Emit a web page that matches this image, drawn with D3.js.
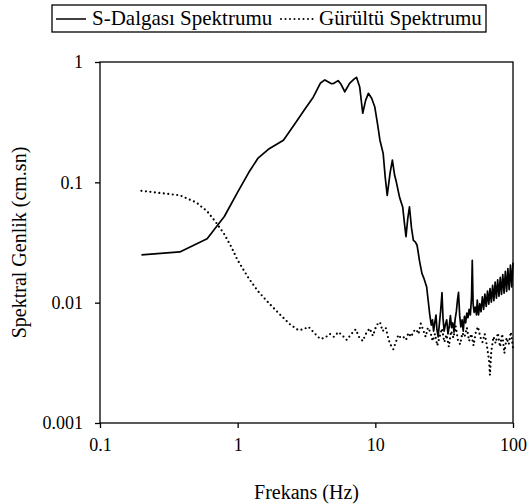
<!DOCTYPE html>
<html>
<head>
<meta charset="utf-8">
<script src="https://cdn.jsdelivr.net/npm/d3@7"></script>
<style>
body { margin: 0; background: #fff; }
text { font-family: "Liberation Serif", "Times New Roman", serif; fill: #000; }
</style>
</head>
<body>
<svg id="board" width="532" height="504"></svg>
<script>
// S-dalgasi spektrumu (frekans Hz, genlik cm.sn)
sFreq = [0.2, 0.38, 0.6, 0.8, 1.0, 1.2, 1.4, 1.67, 2.15, 2.62, 3.1, 3.54, 4.0, 4.3, 4.8, 5.0, 5.37, 5.6, 6.0, 6.5, 7.0, 7.3, 7.7, 8.1, 8.5, 8.9, 9.4, 9.9, 10.4, 10.8, 11.4, 11.8, 12.2, 12.8, 13.3, 13.8, 14.2, 15.0, 15.8, 16.3, 16.7, 17.2, 17.7, 18.3, 18.9, 19.5, 20.1, 20.5, 20.9, 21.8, 22.5, 23.6, 24.3, 24.8,
         25.5, 26, 26.5, 27, 27.6, 28, 28.6, 29.2, 29.8, 30.5, 31, 31.6, 32.3, 33, 33.7, 34.4, 35.1, 35.8, 36.5, 37.3, 38, 38.8, 39.5, 40.2, 41, 41.8, 42.7, 43.5, 44.4, 45.3, 46.2, 47.1, 48, 49, 50, 50.6, 51.3, 52.2, 53.3, 54.3,
         55, 56.2, 57.4, 58.6, 59.9, 61.2, 62.5, 63.9, 65.3, 66.7, 68.1, 69.6, 71.1, 72.6, 74.2, 75.8, 77.4, 79.1, 80.8, 82.5, 84.3, 86.1, 88, 89.9, 91.8, 93.8, 95.8, 97.9, 100];
sVals = [0.025, 0.0264, 0.034, 0.052, 0.083, 0.12, 0.158, 0.188, 0.224, 0.31, 0.41, 0.51, 0.67, 0.71, 0.66, 0.665, 0.70, 0.66, 0.566, 0.665, 0.72, 0.746, 0.62, 0.375, 0.48, 0.549, 0.5, 0.425, 0.3, 0.224, 0.174, 0.11, 0.078, 0.12, 0.153, 0.115, 0.101, 0.075, 0.0625, 0.045, 0.0354, 0.05, 0.0625, 0.042, 0.033, 0.032, 0.030, 0.026, 0.0225, 0.0175, 0.016, 0.0135, 0.01, 0.0081,
         0.0065, 0.0072, 0.0058, 0.0068, 0.0079, 0.006, 0.0052, 0.0067, 0.0085, 0.0121, 0.0075, 0.0058, 0.0066, 0.0072, 0.0055, 0.0063, 0.0078, 0.0062, 0.0068, 0.0057, 0.0073, 0.0085, 0.0105, 0.0122, 0.0078, 0.0063, 0.0072, 0.0058, 0.0077, 0.0068, 0.0082, 0.0075, 0.0088, 0.0079, 0.0112, 0.0225, 0.0098, 0.0083, 0.0092, 0.0079,
         0.0105, 0.0079, 0.0098, 0.0084, 0.0112, 0.0088, 0.0118, 0.0093, 0.0125, 0.0097, 0.0131, 0.0101, 0.0139, 0.0104, 0.0148, 0.0109, 0.0155, 0.0113, 0.0162, 0.0117, 0.0171, 0.012, 0.0182, 0.0124, 0.0192, 0.0128, 0.0205, 0.0135, 0.0215];

// Gurultu spektrumu
nFreq = [0.2, 0.38, 0.5, 0.6, 0.7, 0.8, 0.9, 1.0, 1.2, 1.4, 1.7, 2.0, 2.4, 2.76, 3.0, 3.27, 3.6, 3.97, 4.3, 4.67, 5.0, 5.4, 5.8, 6.2, 6.7, 7.2, 7.6, 8.1, 8.6, 9.1, 9.6, 10.2, 10.8, 11.3, 11.9, 12.5, 13.1, 13.5, 14.1, 14.7, 15.3, 16, 16.7, 17.4, 18.2, 19, 19.8, 20.6, 21.4, 22.3, 23.2, 24.1, 25.1, 26.1, 27.1, 28.2, 29.3, 30.5, 31.7, 32.9, 34.2, 35.5, 36.9, 38.3, 39.8, 41.3, 42.9, 44.5, 46.2, 48, 49.8, 51.7, 53.7, 55.7, 57.8, 60, 62.3, 64.6, 67, 68, 69.5, 72.1, 74.8, 77.6, 80.5, 83.5, 86.6, 89.8, 93.1, 96.5, 100];
nVals = [0.085, 0.078, 0.068, 0.0575, 0.046, 0.037, 0.029, 0.0225, 0.016, 0.0125, 0.0098, 0.0081, 0.0066, 0.0059, 0.006, 0.0063, 0.0056, 0.005, 0.0051, 0.0055, 0.0052, 0.0057, 0.0053, 0.0049, 0.0055, 0.006, 0.0052, 0.0048, 0.0056, 0.0061, 0.0053, 0.0065, 0.0069, 0.0058, 0.0062, 0.0049, 0.0043, 0.0041, 0.0047, 0.0054, 0.0051, 0.0052, 0.0049, 0.0056, 0.0052, 0.0058, 0.006, 0.0055, 0.0067, 0.0059, 0.0052, 0.0062, 0.0057, 0.0048, 0.0055, 0.0044, 0.0052, 0.0061, 0.0047, 0.0054, 0.0043, 0.0058, 0.0051, 0.0064, 0.0049, 0.0045, 0.0056, 0.0052, 0.0062, 0.0048, 0.0055, 0.0044, 0.0057, 0.0063, 0.0052, 0.0047, 0.0055, 0.0044, 0.0033, 0.0025, 0.0039, 0.0052, 0.0046, 0.0056, 0.0043, 0.0055, 0.0038, 0.0051, 0.0045, 0.0057, 0.0042];

xTicks = [0.1, 1, 10, 100];
yTicks = [0.001, 0.01, 0.1, 1];
seriesNames = ['S-Dalgası Spektrumu', 'Gürültü Spektrumu'];

svg = d3.select('#board');
left = 100; right = 513; top_ = 62; bottom = 423;

x = d3.scaleLog().domain([0.1, 100]).range([left, right]);
y = d3.scaleLog().domain([0.001, 1]).range([bottom, top_]);

// frame
svg.append('rect')
    .attr('x', left).attr('y', top_)
    .attr('width', right - left).attr('height', bottom - top_)
    .attr('fill', 'none').attr('stroke', '#000').attr('stroke-width', 1.3);

xAxis = svg.append('g').attr('transform', `translate(0,${bottom})`)
    .call(d3.axisBottom(x).tickValues(xTicks).tickFormat(d => String(d)).tickSize(5).tickPadding(10));
yAxis = svg.append('g').attr('transform', `translate(${left},0)`)
    .call(d3.axisLeft(y).tickValues(yTicks).tickFormat(d => String(d)).tickSize(5).tickPadding(12));
[xAxis, yAxis].forEach(function(a){
    a.attr('font-family', null).attr('font-size', null);
    a.select('.domain').remove();
    a.selectAll('line').attr('stroke', '#000').attr('stroke-width', 1.3);
    a.selectAll('text').style('font-family', '"Liberation Serif", serif').style('font-size', '18px').attr('fill', '#000');
});

line = d3.line().x(d => x(d[0])).y(d => y(d[1]));

sData = sFreq.map((f, i) => [f, sVals[i]]);
nData = nFreq.map((f, i) => [f, nVals[i]]);

svg.append('path').datum(nData)
    .attr('d', line)
    .attr('fill', 'none').attr('stroke', '#000')
    .attr('stroke-width', 2.2).attr('stroke-linecap', 'round')
    .attr('stroke-dasharray', '0 4.5');

svg.append('path').datum(sData)
    .attr('d', line)
    .attr('fill', 'none').attr('stroke', '#000')
    .attr('stroke-width', 1.7).attr('stroke-linejoin', 'round');

// axis titles
svg.append('text').attr('x', (left + right) / 2).attr('y', 499)
    .attr('text-anchor', 'middle').style('font-size', '20px').text('Frekans (Hz)');
svg.append('text').attr('transform', `translate(26,${(top_ + bottom) / 2}) rotate(-90)`)
    .attr('text-anchor', 'middle').style('font-size', '20px').text('Spektral Genlik (cm.sn)');

// legend
legend = svg.append('g');
legend.append('rect').attr('x', 52).attr('y', 5).attr('width', 434).attr('height', 27)
    .attr('fill', '#fff').attr('stroke', '#000').attr('stroke-width', 1.3);
legend.append('line').attr('x1', 56).attr('x2', 86).attr('y1', 19).attr('y2', 19)
    .attr('stroke', '#000').attr('stroke-width', 1.5);
legend.append('text').attr('x', 92).attr('y', 25).style('font-size', '21px').text(seriesNames[0]);
legend.append('line').attr('x1', 281).attr('x2', 313).attr('y1', 19).attr('y2', 19)
    .attr('stroke', '#000').attr('stroke-width', 2).attr('stroke-linecap', 'round')
    .attr('stroke-dasharray', '0 4.5');
legend.append('text').attr('x', 319).attr('y', 25).style('font-size', '21px').text(seriesNames[1]);
</script>
</body>
</html>
